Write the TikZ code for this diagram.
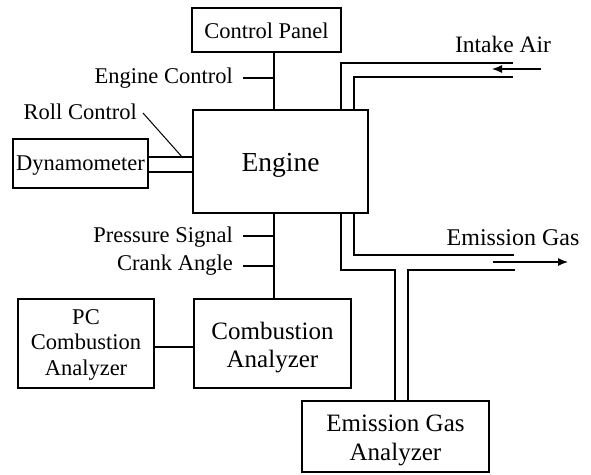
\documentclass[tikz,border=0pt]{standalone}
\usepackage{fontspec}
\setmainfont{Liberation Serif}
\usetikzlibrary{arrows.meta}
\tikzset{
  box/.style={draw, line width=1.1pt, inner sep=0pt},
  txt/.style={inner sep=0pt, align=center, font=\fontsize{22.5}{25.5}\selectfont},
  bigtxt/.style={txt, font=\fontsize{25}{28.5}\selectfont},
  lbl/.style={inner sep=0pt, font=\fontsize{22.5}{25}\selectfont},
  wire/.style={line width=1.2pt},
  flow/.style={line width=1.2pt, -{Latex[length=10pt,width=8pt]}}
}
\begin{document}
\begin{tikzpicture}[x=1pt,y=-1pt]
\useasboundingbox (0,0) rectangle (591,474);
% boxes
\node[box, minimum width=149pt, minimum height=44pt] (cp) at (266.5,30) {};
\node[txt] (cpt) at ([yshift=-1pt]cp.center) {Control Panel};
\node[box, minimum width=175pt, minimum height=103pt] (eng) at (280.5,161.5) {};
\node[txt, font=\fontsize{27.5}{30}\selectfont] (engt) at ([yshift=-4pt]eng.center) {Engine};
\node[box, minimum width=135pt, minimum height=49pt] (dyn) at (80.5,163.5) {};
\node[txt] (dynt) at ([yshift=-2pt]dyn.center) {Dynamometer};
\node[box, minimum width=136pt, minimum height=89pt] (pc) at (86,343.5) {};
\node[txt] (pct) at ([yshift=-1pt]pc.center) {PC\\Combustion\\Analyzer};
\node[box, minimum width=157pt, minimum height=89pt] (ca) at (272.5,343.5) {};
\node[bigtxt] (cat) at ([yshift=-4pt]ca.center) {Combustion\\Analyzer};
\node[box, minimum width=187pt, minimum height=71pt] (ega) at (395.5,436.5) {};
\node[bigtxt] (egat) at ([yshift=-4pt]ega.center) {Emission Gas\\Analyzer};
% labels
\node[lbl, anchor=east] (lec) at (233,78) {Engine Control};
\node[lbl, anchor=east] (lrc) at (137,112) {Roll Control};
\node[lbl, anchor=east] (lps) at (233,237) {Pressure Signal};
\node[lbl, anchor=east] (lca) at (233,265) {Crank Angle};
\node[lbl, font=\fontsize{23.5}{26}\selectfont] (lia) at (503,44) {Intake Air};
\node[lbl, font=\fontsize{24}{26}\selectfont] (leg) at (513,238) {Emission Gas};
% control line
\coordinate (vx) at (274,0);
\draw[wire] (vx |- cp.south) -- (vx |- eng.north);
\coordinate (tec) at (274,78);
\draw[wire] (tec) -- ++(-31,0);
% lower signal line
\draw[wire] (vx |- eng.south) -- (vx |- ca.north);
\coordinate (tps) at (274,236);
\coordinate (tca) at (274,266);
\draw[wire] (tps) -- ++(-31,0);
\draw[wire] (tca) -- ++(-31,0);
% pc to ca
\draw[wire] (pc.east |- 0,347) -- (ca.west |- 0,347);
% dynamometer shafts
\draw[wire] (dyn.east |- 0,157) -- (eng.west |- 0,157);
\draw[wire] (dyn.east |- 0,172) -- (eng.west |- 0,172);
% roll control leader
\coordinate (rc1) at (143,113);
\coordinate (rc2) at (183,158);
\draw[line width=1pt] (rc1) -- (rc2);
% intake pipe
\coordinate (ia1) at (513,63);
\coordinate (ia2) at (513,77);
\draw[wire] (eng.north -| 341,0) |- (ia1);
\draw[wire] (eng.north -| 354,0) |- (ia2);
\coordinate (iaa) at (541,69);
\coordinate (iab) at (492,69);
\draw[flow] (iaa) -- (iab);
% exhaust pipe
\coordinate (eg1) at (514,255);
\coordinate (eg2) at (395,270);
\coordinate (eg3) at (408,270);
\coordinate (eg4) at (515,270);
\draw[wire] (eng.south -| 354,0) |- (eg1);
\draw[wire] (eng.south -| 341,0) |- (eg2) -- (eg2 |- ega.north);
\draw[wire] (eg3 |- ega.north) -- (eg3) -- (eg4);
\coordinate (ega1) at (493,262);
\coordinate (ega2) at (568,262);
\draw[flow] (ega1) -- (ega2);
\end{tikzpicture}
\end{document}
